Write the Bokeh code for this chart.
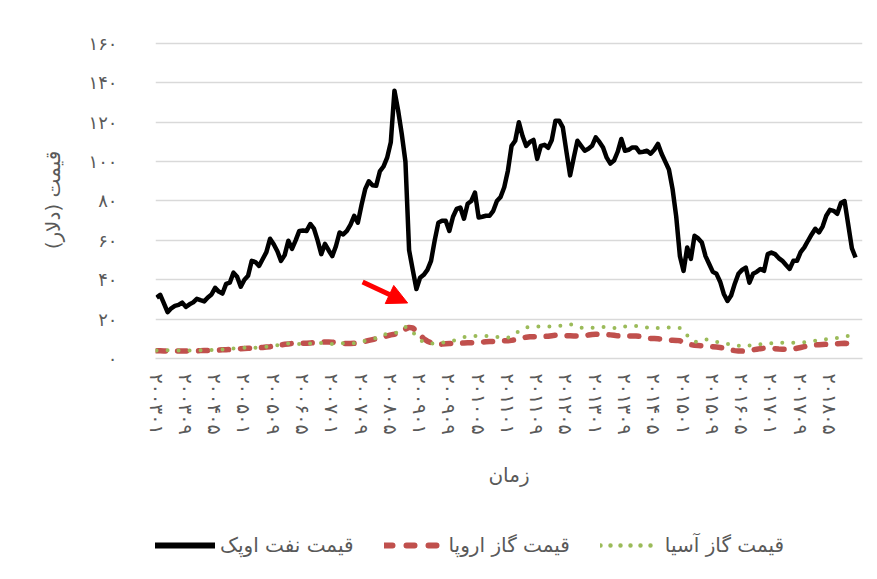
from bokeh.plotting import figure
from bokeh.layouts import column
from bokeh.models import Range1d, FixedTicker, Legend, LegendItem, Arrow, NormalHead
from bokeh.embed import file_html
from bokeh.resources import INLINE

# OPEC oil price (USD), monthly Jan 2003 - Dec 2018
oil_2003 = [30.9, 32.3, 28.0, 23.5, 25.5, 26.7, 27.2, 28.4, 26.2, 27.5, 28.5, 30.3]
oil_2004 = [29.6, 29.0, 31.0, 32.5, 35.9, 34.0, 33.0, 37.9, 38.5, 43.6, 41.5, 36.5]
oil_2005 = [40.0, 42.0, 49.6, 49.0, 47.0, 50.5, 54.0, 60.8, 58.0, 54.5, 49.6, 52.5]
oil_2006 = [59.8, 55.7, 60.0, 64.8, 65.0, 64.8, 68.3, 66.0, 60.0, 53.0, 58.2, 55.0]
oil_2007 = [52.0, 57.0, 64.0, 63.0, 64.8, 68.0, 72.5, 69.0, 78.0, 86.0, 90.0, 88.0]
oil_2008 = [87.7, 95.0, 97.5, 102.0, 109.8, 136.0, 126.0, 114.0, 100.0, 55.0, 45.0, 35.3]
oil_2009 = [41.0, 42.5, 45.0, 49.6, 60.0, 69.0, 70.0, 70.0, 64.8, 72.0, 76.0, 76.7]
oil_2010 = [71.0, 78.6, 80.0, 84.3, 71.6, 72.0, 72.5, 72.5, 75.0, 80.0, 82.0, 87.0]
oil_2011 = [95.4, 108.0, 110.6, 120.0, 113.0, 108.0, 110.0, 111.0, 101.4, 108.0, 108.5, 107.0]
oil_2012 = [111.0, 120.8, 120.8, 117.4, 105.0, 93.0, 102.0, 110.6, 108.0, 105.5, 106.5, 108.0]
oil_2013 = [112.3, 110.0, 107.2, 102.0, 99.0, 100.5, 105.0, 111.5, 105.5, 106.0, 107.2, 107.2]
oil_2014 = [104.7, 105.0, 105.5, 104.0, 106.0, 109.0, 104.0, 100.0, 96.0, 86.0, 72.0, 52.0]
oil_2015 = [44.5, 56.4, 50.6, 62.3, 61.0, 58.9, 52.0, 48.0, 44.0, 43.0, 39.0, 32.8]
oil_2016 = [29.2, 32.0, 38.0, 43.0, 45.0, 46.2, 38.5, 43.0, 44.0, 45.5, 44.5, 53.0]
oil_2017 = [53.8, 53.0, 51.0, 49.6, 47.5, 45.5, 49.6, 49.6, 54.0, 56.4, 59.8, 63.0]
oil_2018 = [65.9, 64.0, 67.0, 72.5, 75.5, 75.0, 73.5, 79.0, 80.0, 68.0, 56.0, 51.3]

# Europe gas price
eu_2003 = [3.9, 3.9, 3.8, 3.8, 3.8, 3.8, 3.8, 3.8, 3.8, 3.8, 3.9, 3.9]
eu_2004 = [4.0, 4.1, 4.1, 4.2, 4.2, 4.3, 4.4, 4.5, 4.6, 4.7, 4.8, 5.0]
eu_2005 = [5.1, 5.2, 5.3, 5.4, 5.5, 5.6, 5.8, 6.0, 6.3, 6.6, 6.9, 7.2]
eu_2006 = [7.4, 7.6, 7.7, 7.7, 7.8, 7.8, 7.9, 8.0, 8.2, 8.3, 8.4, 8.4]
eu_2007 = [8.3, 8.0, 7.8, 7.6, 7.6, 7.6, 7.7, 7.8, 8.2, 8.7, 9.2, 9.6]
eu_2008 = [10.0, 10.5, 11.0, 11.5, 12.0, 12.3, 13.0, 14.0, 15.0, 15.8, 15.5, 14.0]
eu_2009 = [12.0, 10.0, 8.8, 8.0, 7.5, 7.2, 7.3, 7.5, 7.6, 7.6, 7.7, 7.8]
eu_2010 = [7.9, 8.0, 8.0, 8.1, 8.2, 8.3, 8.5, 8.6, 8.7, 8.8, 8.9, 9.0]
eu_2011 = [9.0, 9.2, 9.5, 10.0, 10.5, 10.8, 11.0, 11.0, 11.0, 11.1, 11.2, 11.3]
eu_2012 = [11.6, 11.8, 11.8, 11.8, 11.6, 11.5, 11.4, 11.4, 11.4, 11.6, 11.9, 12.2]
eu_2013 = [12.3, 12.4, 12.3, 12.2, 12.0, 11.8, 11.5, 11.4, 11.4, 11.4, 11.4, 11.4]
eu_2014 = [11.2, 10.8, 10.4, 10.2, 10.1, 10.0, 9.8, 9.6, 9.4, 9.3, 9.2, 9.0]
eu_2015 = [8.2, 7.5, 7.0, 6.7, 6.6, 6.5, 6.4, 6.2, 6.0, 5.8, 5.6, 5.3]
eu_2016 = [4.8, 4.3, 4.0, 3.8, 3.8, 3.9, 4.1, 4.4, 4.7, 5.0, 5.2, 5.3]
eu_2017 = [5.2, 5.0, 4.8, 4.7, 4.7, 4.7, 4.8, 5.2, 5.6, 6.0, 6.4, 6.7]
eu_2018 = [6.9, 7.0, 7.1, 7.2, 7.3, 7.4, 7.5, 7.6, 7.7, 7.5, 7.0, 6.5]

# Asia gas price
as_2003 = [4.0, 4.1, 4.2, 4.2, 4.1, 4.0, 4.0, 4.0, 4.1, 4.1, 4.2, 4.2]
as_2004 = [4.2, 4.2, 4.2, 4.3, 4.4, 4.5, 4.6, 4.8, 5.0, 5.1, 5.3, 5.5]
as_2005 = [5.5, 5.5, 5.5, 5.5, 5.6, 5.8, 6.0, 6.2, 6.4, 6.8, 7.2, 7.6]
as_2006 = [7.6, 7.5, 7.4, 7.3, 7.3, 7.4, 7.6, 7.8, 8.0, 7.8, 7.4, 7.2]
as_2007 = [7.4, 7.6, 7.7, 7.7, 7.6, 7.6, 7.8, 8.2, 8.5, 9.0, 9.5, 9.9]
as_2008 = [10.5, 11.5, 12.2, 12.5, 12.7, 12.8, 13.5, 14.5, 16.0, 15.5, 13.4, 11.5]
as_2009 = [9.3, 8.5, 7.8, 7.6, 7.6, 7.8, 8.0, 8.3, 8.5, 9.0, 9.7, 10.2]
as_2010 = [10.8, 11.2, 11.4, 11.4, 11.4, 11.4, 11.4, 11.4, 11.2, 11.0, 10.7, 10.5]
as_2011 = [10.6, 11.2, 12.5, 14.0, 15.2, 15.8, 16.0, 16.2, 16.2, 16.2, 16.2, 16.2]
as_2012 = [16.2, 16.3, 16.5, 16.8, 17.2, 17.4, 16.8, 16.0, 15.7, 15.5, 15.4, 15.6]
as_2013 = [15.8, 16.0, 16.0, 16.0, 15.9, 15.5, 15.2, 15.6, 16.2, 16.5, 16.5, 16.5]
as_2014 = [16.5, 16.3, 15.8, 15.2, 15.2, 15.5, 15.7, 15.7, 15.7, 15.7, 15.7, 15.5]
as_2015 = [14.5, 11.8, 10.2, 8.5, 8.5, 9.2, 9.7, 9.5, 8.8, 8.5, 8.2, 7.8]
as_2016 = [7.4, 7.2, 7.0, 6.5, 6.0, 6.1, 6.6, 7.2, 7.2, 7.2, 7.2, 7.4]
as_2017 = [7.8, 8.0, 8.0, 8.0, 8.0, 8.0, 8.0, 8.0, 8.1, 8.3, 8.5, 8.6]
as_2018 = [9.0, 9.5, 9.7, 9.8, 10.0, 10.2, 10.4, 10.8, 11.2, 11.5, 11.5, 11.3]

x_tick_labels = ["۲۰۰۳۰۱", "۲۰۰۳۰۹", "۲۰۰۴۰۵", "۲۰۰۵۰۱", "۲۰۰۵۰۹", "۲۰۰۶۰۵",
                 "۲۰۰۷۰۱", "۲۰۰۷۰۹", "۲۰۰۸۰۵", "۲۰۰۹۰۱", "۲۰۰۹۰۹", "۲۰۱۰۰۵",
                 "۲۰۱۱۰۱", "۲۰۱۱۰۹", "۲۰۱۲۰۵", "۲۰۱۳۰۱", "۲۰۱۳۰۹", "۲۰۱۴۰۵",
                 "۲۰۱۵۰۱", "۲۰۱۵۰۹", "۲۰۱۶۰۵", "۲۰۱۷۰۱", "۲۰۱۷۰۹", "۲۰۱۸۰۵"]
y_tick_values = [0, 20, 40, 60, 80, 100, 120, 140, 160]
y_tick_labels = ["۰", "۲۰", "۴۰", "۶۰", "۸۰", "۱۰۰", "۱۲۰", "۱۴۰", "۱۶۰"]

series_names = ["قیمت نفت اوپک", "قیمت گاز اروپا", "قیمت گاز آسیا"]
x_title = "زمان"
y_title = "قیمت (دلار)"

oil = (oil_2003 + oil_2004 + oil_2005 + oil_2006 + oil_2007 + oil_2008 + oil_2009 + oil_2010 +
       oil_2011 + oil_2012 + oil_2013 + oil_2014 + oil_2015 + oil_2016 + oil_2017 + oil_2018)
eu = (eu_2003 + eu_2004 + eu_2005 + eu_2006 + eu_2007 + eu_2008 + eu_2009 + eu_2010 +
      eu_2011 + eu_2012 + eu_2013 + eu_2014 + eu_2015 + eu_2016 + eu_2017 + eu_2018)
asia = (as_2003 + as_2004 + as_2005 + as_2006 + as_2007 + as_2008 + as_2009 + as_2010 +
        as_2011 + as_2012 + as_2013 + as_2014 + as_2015 + as_2016 + as_2017 + as_2018)
months = list(range(len(oil)))
x_tick_pos = months[::8]

FONT = "DejaVu Sans"
TXT = "#595959"
OIL_C, EU_C, AS_C = "black", "#c0504d", "#9bbb59"

p = figure(width=870, height=515, output_backend="svg", toolbar_location=None,
           x_range=Range1d(-0.3, 192.9), y_range=Range1d(0, 161),
           min_border_left=155, min_border_right=8, min_border_top=41, min_border_bottom=157)
p.outline_line_color = None
p.background_fill_color = "white"
p.border_fill_color = "white"

p.xgrid.grid_line_color = None
p.ygrid.grid_line_color = "#d9d9d9"
p.ygrid.grid_line_width = 1.5
p.yaxis.ticker = FixedTicker(ticks=y_tick_values)
p.yaxis.major_label_overrides = {v: l for v, l in zip(y_tick_values, y_tick_labels)}
p.yaxis.axis_line_color = None
p.yaxis.major_tick_line_color = None
p.yaxis.minor_tick_line_color = None
p.yaxis.major_label_text_font = FONT
p.yaxis.major_label_text_font_size = "18px"
p.yaxis.major_label_text_color = TXT
p.yaxis.major_label_standoff = 32
p.yaxis.axis_label = y_title
p.yaxis.axis_label_text_font = FONT
p.yaxis.axis_label_text_font_size = "20px"
p.yaxis.axis_label_text_font_style = "normal"
p.yaxis.axis_label_text_color = TXT
p.yaxis.axis_label_standoff = 20

p.xaxis.ticker = FixedTicker(ticks=x_tick_pos)
p.xaxis.major_label_overrides = {v: l for v, l in zip(x_tick_pos, x_tick_labels)}
p.xaxis.major_label_orientation = "vertical"
p.xaxis.axis_line_color = "#d9d9d9"
p.xaxis.axis_line_width = 1.5
p.xaxis.major_tick_line_color = None
p.xaxis.minor_tick_line_color = None
p.xaxis.major_label_text_font = FONT
p.xaxis.major_label_text_font_size = "19px"
p.xaxis.major_label_text_color = TXT
p.xaxis.major_label_standoff = 9
p.xaxis.axis_label = x_title
p.xaxis.axis_label_text_font = FONT
p.xaxis.axis_label_text_font_size = "20px"
p.xaxis.axis_label_text_font_style = "normal"
p.xaxis.axis_label_text_color = TXT
p.xaxis.axis_label_standoff = 25

p.line(months, oil, line_color=OIL_C, line_width=4.5, line_join="round")
p.line(months, eu, line_color=EU_C, line_width=5.5, line_dash="9 12", line_cap="round")
p.line(months, asia, line_color=AS_C, line_width=4, line_dash="0 11", line_cap="round")

p.add_layout(Arrow(end=NormalHead(fill_color="red", line_color="red", size=20),
                   x_start=56.3, y_start=38.9, x_end=68.6, y_end=28.2,
                   line_color="red", line_width=5))

# legend strip below the chart (its lines lie outside this strip's view; only the legend shows)
pl = figure(width=870, height=64, output_backend="svg", toolbar_location=None,
            x_range=Range1d(-1000, -999), y_range=Range1d(0, 1),
            x_axis_type=None, y_axis_type=None,
            min_border=0, min_border_left=0, min_border_right=0, min_border_top=0, min_border_bottom=0)
pl.outline_line_color = None
pl.background_fill_color = "white"
pl.border_fill_color = "white"
pl.xgrid.visible = False
pl.ygrid.visible = False
l_oil = pl.line(months, oil, line_color=OIL_C, line_width=6, line_cap="round")
l_eu = pl.line(months, eu, line_color=EU_C, line_width=6, line_dash="8 14", line_cap="round")
l_as = pl.line(months, asia, line_color=AS_C, line_width=4.5, line_dash="0 10", line_cap="round")
legend = Legend(items=[LegendItem(label=series_names[0], renderers=[l_oil]),
                       LegendItem(label=series_names[1], renderers=[l_eu]),
                       LegendItem(label=series_names[2], renderers=[l_as])],
                orientation="horizontal", location=(0, 22),
                glyph_width=60, glyph_height=22, label_standoff=5, spacing=30,
                label_text_font=FONT, label_text_font_size="20px", label_text_color=TXT,
                border_line_color=None, background_fill_alpha=0, padding=0, margin=0)
pl.add_layout(legend, "center")

open("out.html", "w").write(file_html(column(p, pl), INLINE))
